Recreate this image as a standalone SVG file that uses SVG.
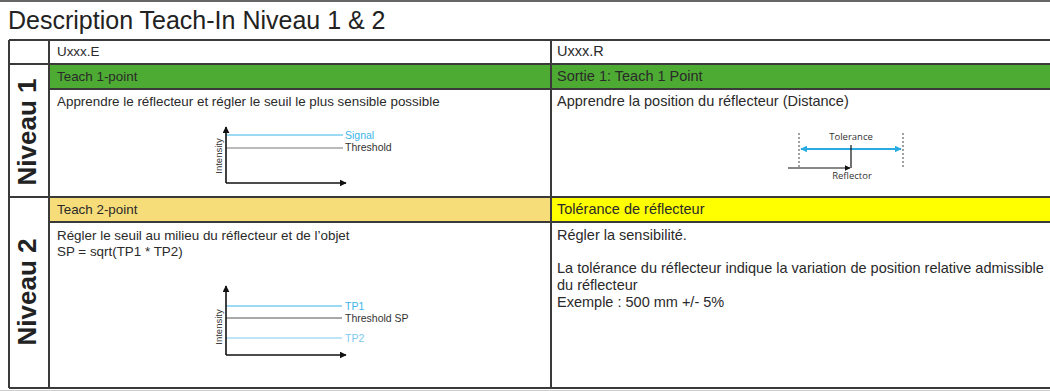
<svg xmlns="http://www.w3.org/2000/svg" width="1050" height="391" viewBox="0 0 1050 391">
<defs>
<style>
.t{font-family:"Liberation Sans",Arial,sans-serif;font-size:13.4px;fill:#2a2a2a}
.r{font-family:"Liberation Sans",Arial,sans-serif;font-size:14.5px;fill:#2a2a2a}
.title{font-family:"Liberation Sans",Arial,sans-serif;font-size:25px;fill:#222}
.niv{font-family:"Liberation Sans",Arial,sans-serif;font-size:26px;font-weight:bold;fill:#222}
.small{font-family:"Liberation Sans",Arial,sans-serif;font-size:10.5px;fill:#333}
.myr{font-family:"Open Sans","Liberation Sans",sans-serif;font-size:9.5px;fill:#333}
.grid{stroke:#3a3a3a;stroke-width:2;fill:none}
.axis{stroke:#111;stroke-width:1.6;fill:none}
</style>
<marker id="ah" viewBox="0 0 10 10" refX="9" refY="5" markerWidth="7" markerHeight="7" markerUnits="userSpaceOnUse" orient="auto"><path d="M0,0 L10,5 L0,10 z" fill="#111"/></marker>
<marker id="ahb" viewBox="0 0 10 10" refX="9" refY="5" markerWidth="7" markerHeight="7" markerUnits="userSpaceOnUse" orient="auto-start-reverse"><path d="M0,0 L10,5 L0,10 z" fill="#29abe2"/></marker>
<marker id="ahs" viewBox="0 0 10 10" refX="9" refY="5" markerWidth="6" markerHeight="6" markerUnits="userSpaceOnUse" orient="auto"><path d="M0,0 L10,5 L0,10 z" fill="#111"/></marker>
</defs>
<rect width="1050" height="391" fill="#fff"/>
<line x1="0" y1="1" x2="1050" y2="1" stroke="#666" stroke-width="2"/>
<text class="title" x="8" y="29">Description Teach-In Niveau 1 &amp; 2</text>

<g id="fills">
<rect x="49" y="64" width="502" height="25" fill="#4dab33"/>
<rect x="551" y="64" width="499" height="25" fill="#4dab33"/>
<rect x="49" y="197" width="502" height="25" fill="#f7dd7a"/>
<rect x="551" y="197" width="499" height="25" fill="#ffff00"/>
</g>

<g id="grid">
<path class="grid" d="M9,40 H1050 M9,64 H1050 M49,89 H1050 M9,197 H1050 M49,222 H1050 M9,388 H1050 M9,40 V388 M49,40 V388 M551,40 V388"/>
<line x1="0" y1="390.5" x2="1050" y2="390.5" stroke="#ccc" stroke-width="1"/>
</g>

<g id="header-E"><text class="t" x="57" y="56">Uxxx.E</text></g>
<g id="header-R"><text class="r" x="557" y="56">Uxxx.R</text></g>

<g id="niveau1"><text class="niv" transform="translate(36,132) rotate(-90)" text-anchor="middle">Niveau 1</text></g>
<g id="niveau2"><text class="niv" transform="translate(36,292) rotate(-90)" text-anchor="middle">Niveau 2</text></g>

<g id="teach1">
<text class="t" x="57" y="81">Teach 1-point</text>
<text class="t" x="57" y="106">Apprendre le réflecteur et régler le seuil le plus sensible possible</text>
<line x1="226" y1="135" x2="343" y2="135" stroke="#3bb6e8" stroke-width="1.2"/>
<line x1="226" y1="148" x2="343" y2="148" stroke="#777" stroke-width="1.2"/>
<path class="axis" d="M226,183 V127" marker-end="url(#ah)"/>
<path class="axis" d="M226,183 H346" marker-end="url(#ah)"/>
<text class="small" x="345" y="139" style="fill:#3bb6e8">Signal</text>
<text class="small" x="345" y="151">Threshold</text>
<text class="small" transform="translate(222,156) rotate(-90)" text-anchor="middle" style="font-size:9.5px">Intensity</text>
</g>

<g id="sortie1">
<text class="r" x="557" y="81">Sortie 1: Teach 1 Point</text>
<text class="r" x="557" y="106">Apprendre la position du réflecteur (Distance)</text>
<line x1="799" y1="133" x2="799" y2="168" stroke="#444" stroke-width="1" stroke-dasharray="2,2"/>
<line x1="903" y1="133" x2="903" y2="168" stroke="#444" stroke-width="1" stroke-dasharray="2,2"/>
<path d="M801,149 H901" stroke="#29abe2" stroke-width="2" marker-start="url(#ahb)" marker-end="url(#ahb)"/>
<line x1="851" y1="145" x2="851" y2="168" stroke="#111" stroke-width="1.2"/>
<path d="M788,168 H850" stroke="#111" stroke-width="1" marker-end="url(#ahs)"/>
<text class="myr" x="851" y="140" text-anchor="middle">Tolerance</text>
<text class="myr" x="852" y="179" text-anchor="middle">Reflector</text>
</g>

<g id="teach2">
<text class="t" x="57" y="214">Teach 2-point</text>
<text class="t" x="57" y="240">Régler le seuil au milieu du réflecteur et de l’objet</text>
<text class="t" x="57" y="256">SP = sqrt(TP1 * TP2)</text>
<line x1="226" y1="306" x2="342" y2="306" stroke="#3bb6e8" stroke-width="1.2"/>
<line x1="226" y1="318" x2="342" y2="318" stroke="#555" stroke-width="1.2"/>
<line x1="226" y1="338" x2="342" y2="338" stroke="#7cc9ee" stroke-width="1"/>
<path class="axis" d="M226,355 V286" marker-end="url(#ah)"/>
<path class="axis" d="M226,355 H346" marker-end="url(#ah)"/>
<text class="small" x="345" y="310" style="fill:#3bb6e8">TP1</text>
<text class="small" x="345" y="322">Threshold SP</text>
<text class="small" x="345" y="342" style="fill:#7cc9ee">TP2</text>
<text class="small" transform="translate(222,327) rotate(-90)" text-anchor="middle" style="font-size:9.5px">Intensity</text>
</g>

<g id="tolerance">
<text class="r" x="557" y="214">Tolérance de réflecteur</text>
<text class="r" x="557" y="240">Régler la sensibilité.</text>
<text class="r" x="557" y="273">La tolérance du réflecteur indique la variation de position relative admissible</text>
<text class="r" x="557" y="290">du réflecteur</text>
<text class="r" x="557" y="307">Exemple : 500 mm +/- 5%</text>
</g>
</svg>
